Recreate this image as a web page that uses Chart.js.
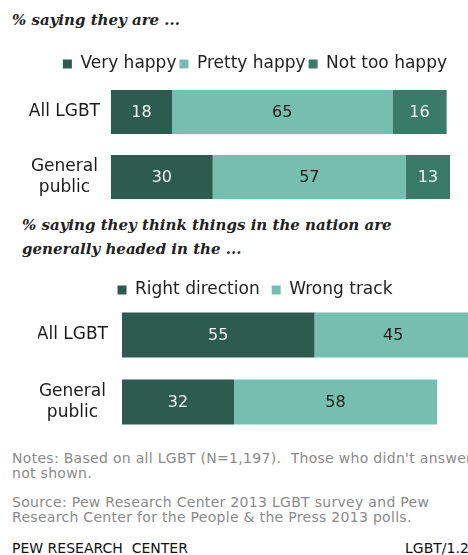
<!DOCTYPE html>
<html>
<head>
<meta charset="utf-8">
<script src="https://cdn.jsdelivr.net/npm/chart.js@4.4.1/dist/chart.umd.min.js"></script>
<style>
  html, body { margin: 0; padding: 0; background: #fff; }
  body { width: 468px; height: 555px; overflow: hidden; position: relative; }
  .t { position: absolute; white-space: nowrap; }
  .title { font-family: "DejaVu Serif", serif; font-style: italic; font-weight: bold; font-size: 15px; color: #222; line-height: 24px; }
  .note { font-family: "DejaVu Sans", sans-serif; font-size: 14px; letter-spacing: 0.3px; color: #8a8a8a; line-height: 15px; }
  .foot { font-family: "DejaVu Sans", sans-serif; font-size: 14px; color: #111; }
  #c1wrap { position: absolute; left: 0; top: 0; width: 468px; height: 215px; }
  #c2wrap { position: absolute; left: 0; top: 255px; width: 472px; height: 185px; }
</style>
</head>
<body>
<div class="t title" style="left:12px; top:8px;">% saying they are ...</div>
<div class="t title" style="left:22px; top:213px;">% saying they think things in the nation are<br>generally headed in the ...</div>
<div id="c1wrap"><canvas id="c1"></canvas></div>
<div id="c2wrap"><canvas id="c2"></canvas></div>
<div class="t note" style="left:12px; top:451px;">Notes: Based on all LGBT (N=1,197).&nbsp; Those who didn't answer are<br>not shown.</div>
<div class="t note" style="left:12px; top:495px;">Source: Pew Research Center 2013 LGBT survey and Pew<br>Research Center for the People &amp; the Press 2013 polls.</div>
<div class="t foot" style="left:12px; top:540px;">PEW RESEARCH&nbsp; CENTER</div>
<div class="t foot" style="left:405px; top:540px;">LGBT/1.2</div>
<script>
// ---- data ----
const groups = ['All LGBT', ['General', 'public']];
const happyLabels = ['Very happy', 'Pretty happy', 'Not too happy'];
const veryHappy = [18, 30];
const prettyHappy = [65, 57];
const notTooHappy = [16, 13];
const directionLabels = ['Right direction', 'Wrong track'];
const rightDirection = [55, 32];
const wrongTrack = [45, 58];

// ---- styles ----
const DARK = '#2d5b4f', LIGHT = '#76bfae', MID = '#3a7a68';
const FONT = '"DejaVu Sans", sans-serif';

const valueLabels = {
  id: 'valueLabels',
  afterDatasetsDraw(chart) {
    const ctx = chart.ctx;
    ctx.save();
    ctx.font = '16px ' + FONT;
    ctx.textAlign = 'center';
    ctx.textBaseline = 'middle';
    chart.data.datasets.forEach((ds, i) => {
      const meta = chart.getDatasetMeta(i);
      meta.data.forEach((el, j) => {
        const v = ds.data[j];
        const cx = (el.x + el.base) / 2;
        ctx.fillStyle = ds.labelColor;
        ctx.fillText(String(v), cx, el.y + 1);
      });
    });
    ctx.restore();
  }
};

function makeChart(id, datasets, opts) {
  return new Chart(document.getElementById(id), {
    type: 'bar',
    data: { labels: groups, datasets },
    plugins: [valueLabels],
    options: {
      indexAxis: 'y',
      responsive: true,
      maintainAspectRatio: false,
      animation: false,
      layout: { padding: opts.padding },
      datasets: { bar: { barPercentage: opts.barPct, categoryPercentage: 1, borderWidth: 0 } },
      plugins: {
        tooltip: { enabled: false },
        legend: {
          position: 'top',
          align: opts.legendAlign,
          maxHeight: opts.legendMaxHeight,
          labels: {
            font: { family: FONT, size: 17 },
            color: '#222',
            boxWidth: 9,
            boxHeight: 9,
            padding: opts.legendPadding
          }
        }
      },
      scales: {
        x: {
          stacked: true, min: 0, max: 100, position: 'top',
          grid: { display: false, drawTicks: false }, border: { display: false },
          ticks: { display: false },
          afterFit: s => { s.height = opts.gap; }
        },
        y: {
          stacked: true,
          grid: { display: false, drawTicks: false }, border: { display: false },
          ticks: { font: { family: FONT, size: 17, lineHeight: 1.2 }, color: '#1a1a1a', padding: opts.tickPad, crossAlign: 'center' },
          afterFit: s => { s.width = opts.yWidth; s.paddingTop = 0; s.paddingBottom = 0; }
        }
      }
    }
  });
}

makeChart('c1', [
  { label: happyLabels[0], data: veryHappy, backgroundColor: DARK, labelColor: '#f2f2f2' },
  { label: happyLabels[1], data: prettyHappy, backgroundColor: LIGHT, labelColor: '#1e1e1e' },
  { label: happyLabels[2], data: notTooHappy, backgroundColor: MID, labelColor: '#f2f2f2' }
], { padding: { top: 52.5, right: 18, bottom: 5.5, left: 0 }, barPct: 0.68, legendAlign: 'end',
     legendMaxHeight: 23, legendPadding: 3, gap: 4, tickPad: 11, yWidth: 111 });

makeChart('c2', [
  { label: directionLabels[0], data: rightDirection, backgroundColor: DARK, labelColor: '#f2f2f2' },
  { label: directionLabels[1], data: wrongTrack, backgroundColor: LIGHT, labelColor: '#1e1e1e' }
], { padding: { top: 14.5, right: 0, bottom: 4.5, left: 38 }, barPct: 0.67, legendAlign: 'center',
     legendMaxHeight: 32, legendPadding: 12, gap: 0, tickPad: 14, yWidth: 84 });
</script>
</body>
</html>
